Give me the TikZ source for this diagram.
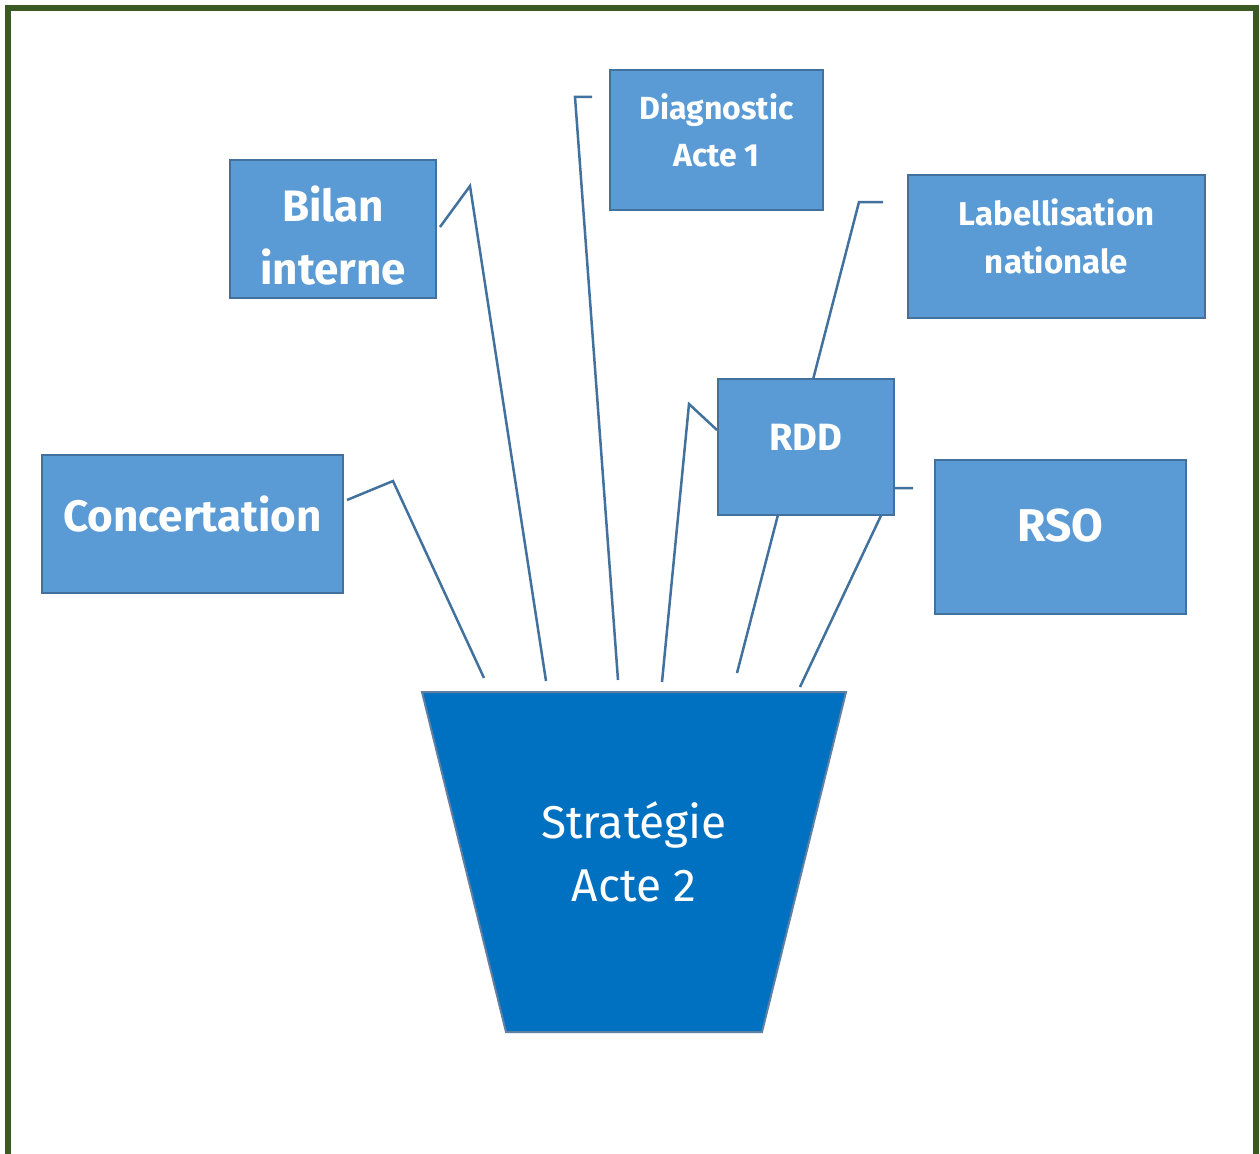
\documentclass[tikz,border=0pt]{standalone}
\usepackage{fontspec}
\setmainfont{Fira Sans}
\definecolor{boxfill}{HTML}{5B9BD5}
\definecolor{boxline}{HTML}{41719C}
\definecolor{potfill}{HTML}{0070C0}
\definecolor{potline}{HTML}{5F7FA3}
\definecolor{frame}{HTML}{3B5A23}
\tikzset{
  theme/.style={draw=boxline, fill=boxfill, line width=2pt, text=white,
    align=center, inner sep=0pt, font=\bfseries},
  link/.style={draw=boxline, line width=2.5pt}
}
\begin{document}
\begin{tikzpicture}[x=1pt, y=-1pt]
    \useasboundingbox (0,0) rectangle (1260,1153);
    \clip (0,0) rectangle (1260,1153);
    % Frame
    \draw[frame, line width=6pt] (8,8) rectangle (1255.5,1200);

    % Pot
    \filldraw[fill=potfill, draw=potline, line width=2pt]
      (422,692) -- (846,692) -- (762,1032) -- (506,1032) -- cycle;
    \node[text=white, align=center, font=\fontsize{46}{63}\selectfont]
      (strat) at (634,852) {Strat\'egie\\Acte 2};

    % End points on the pot
    \coordinate (e1) at (484,678);
    \coordinate (e2) at (546,681);
    \coordinate (e3) at (618,680);
    \coordinate (e4) at (662,682);
    \coordinate (e5) at (737,673);
    \coordinate (e6) at (800,687);

    % Bends
    \coordinate (k1) at (393,481);
    \coordinate (k2) at (470,186);
    \coordinate (k3) at (575,97);
    \coordinate (k4) at (689,404);
    \coordinate (k5) at (859,202);
    \coordinate (k6) at (894,488);

    % Themes
    \node[theme, minimum width=301pt, minimum height=138pt] (concert) at (192.5,524) {};
    \node[theme, minimum width=206pt, minimum height=138pt] (bilan) at (333,229) {};
    \node[theme, minimum width=213pt, minimum height=140pt] (diag) at (716.5,140) {};
    \node[theme, minimum width=297pt, minimum height=143pt] (label) at (1056.5,246.5) {};
    \node[theme, minimum width=251pt, minimum height=154pt] (rso) at (1060.5,537) {};

    % Connectors
    \draw[link] ([xshift=3pt,yshift=24pt]concert.east) -- (k1) -- (e1);
    \draw[link] ([xshift=3pt,yshift=2pt]bilan.east) -- (k2) -- (e2);
    \draw[link] ([xshift=-17pt,yshift=43pt]diag.west) -- (k3) -- (e3);
    \draw[link] ([xshift=-24pt,yshift=44.5pt]label.west) -- (k5) -- (e5);
    \draw[link] ([xshift=-21pt,yshift=49pt]rso.west) -- (k6) -- (e6);

    \node[theme, minimum width=176pt, minimum height=136pt] (rdd) at (806,447) {};
    \draw[link] ([yshift=17pt]rdd.west) -- (k4) -- (e4);

    % Texts
    \node[text=white, font=\bfseries\fontsize{44}{63}\selectfont] at (192.5,514) {Concertation};
    \node[text=white, align=center, font=\bfseries\fontsize{44}{63}\selectfont] at (333,236) {Bilan\\interne};
    \node[text=white, align=center, font=\bfseries\fontsize{32}{47}\selectfont] at (716.5,130) {Diagnostic\\Acte 1};
    \node[text=white, align=center, font=\bfseries\fontsize{33}{48}\selectfont] at (1056.5,236) {Labellisation\\nationale};
    \node[text=white, font=\bfseries\fontsize{38}{48}\selectfont] at (806,437) {RDD};
    \node[text=white, font=\bfseries\fontsize{46}{48}\selectfont] at (1060.5,526) {RSO};
\end{tikzpicture}
\end{document}
